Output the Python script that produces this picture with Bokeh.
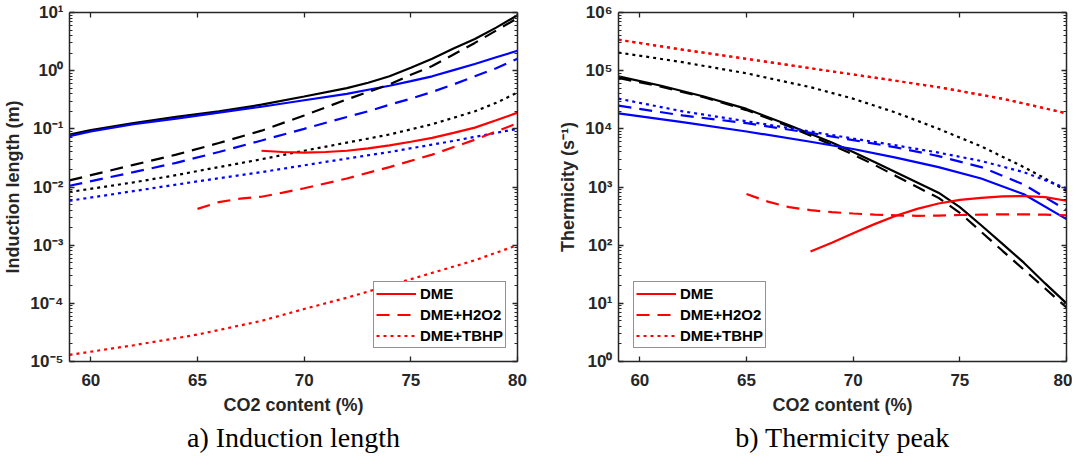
from bokeh.plotting import figure
from bokeh.models import (LogAxis, LinearAxis, FixedTicker, Legend, LegendItem,
                          Title, Range1d, CustomJSTickFormatter)
from bokeh.layouts import row
from bokeh.embed import file_html
from bokeh.resources import INLINE

# ---------------- data: a) Induction length (m) ----------------
len_x_solid = [59, 60, 62, 64, 66, 68, 70, 72, 73, 74, 75, 76, 77, 78, 79, 80]
len_black_solid = [0.08, 0.095, 0.125, 0.16, 0.2, 0.26, 0.36, 0.5, 0.62, 0.8, 1.12, 1.6, 2.4,
                   3.5, 5.5, 9.0]
len_blue_solid = [0.075, 0.09, 0.12, 0.15, 0.19, 0.24, 0.31, 0.4, 0.47, 0.55, 0.66, 0.8, 1.02,
                  1.3, 1.7, 2.2]

len_x_dashed = [59, 62, 64, 66, 68, 70, 72, 73, 74, 75, 76, 77, 78, 79, 80]
len_black_dashed = [0.013, 0.024, 0.036, 0.057, 0.093, 0.17, 0.32, 0.43, 0.58, 0.85, 1.2, 1.9,
                    3.0, 4.9, 8.0]
len_blue_dashed = [0.0105, 0.018, 0.026, 0.04, 0.063, 0.1, 0.16, 0.2, 0.26, 0.33, 0.43, 0.58,
                   0.8, 1.1, 1.6]
len_black_dotted = [0.0082, 0.012, 0.016, 0.022, 0.03, 0.042, 0.058, 0.068, 0.08, 0.098, 0.12,
                    0.155, 0.2, 0.28, 0.42]

len_x_blue_dotted = [59, 62, 65, 68, 71, 74, 77, 80]
len_blue_dotted = [0.0058, 0.0085, 0.0125, 0.018, 0.027, 0.04, 0.062, 0.1]

len_x_red_solid = [68, 69, 70, 71, 72, 73, 74, 75, 76, 77, 78, 79, 80]
len_red_solid = [0.042, 0.04, 0.039, 0.04, 0.042, 0.046, 0.052, 0.06, 0.07, 0.085, 0.105, 0.14, 0.19]

len_x_red_dashed = [65, 66, 67, 68, 69, 70, 72, 74, 76, 78, 80]
len_red_dashed = [0.0042, 0.0055, 0.0063, 0.0068, 0.008, 0.0095, 0.014, 0.022, 0.036, 0.065, 0.125]

len_x_red_dotted = [59, 62, 65, 68, 70, 72, 75, 78, 80]
len_red_dotted = [1.3e-5, 1.9e-5, 2.9e-5, 5e-5, 8e-5, 1.25e-4, 2.6e-4, 5.5e-4, 1e-3]

# ---------------- data: b) Thermicity peak (1/s) ----------------
th_x_black = [59, 61, 63, 65, 67, 69, 70, 71, 72, 73, 74, 75, 76, 77, 78, 79, 80]
th_black_solid = [8e4, 5.5e4, 3.6e4, 2.2e4, 1.15e4, 5.8e3, 4e3, 2.7e3, 1.8e3, 1.2e3, 8e2, 4.5e2,
                  2.2e2, 1.05e2, 50, 22, 10]
th_black_dashed = [7.5e4, 5.3e4, 3.5e4, 2.1e4, 1.1e4, 5.3e3, 3.6e3, 2.4e3, 1.55e3, 1e3, 6.5e2,
                   3.6e2, 1.7e2, 80, 38, 18, 8.5]

th_x_black_dotted = [59, 62, 65, 68, 70, 72, 74, 76, 78, 79, 80]
th_black_dotted = [2.05e5, 1.4e5, 9e4, 5.2e4, 3.3e4, 1.9e4, 1e4, 5e3, 2.2e3, 1.4e3, 8.5e2]

th_x_blue = [59, 62, 65, 68, 70, 72, 74, 76, 78, 80]
th_blue_solid = [1.85e4, 1.3e4, 9e3, 6e3, 4.5e3, 3.2e3, 2.2e3, 1.4e3, 7.5e2, 2.8e2]
th_blue_dashed = [2.5e4, 1.7e4, 1.25e4, 8.5e3, 6.4e3, 4.8e3, 3.4e3, 2.2e3, 1.1e3, 4e2]
th_blue_dotted = [3.3e4, 2e4, 1.35e4, 9e3, 6.8e3, 5.2e3, 3.9e3, 2.8e3, 1.8e3, 9.5e2]

th_x_red_solid = [68, 69, 70, 71, 72, 73, 74, 75, 76, 77, 78, 79, 80]
th_red_solid = [78, 110, 160, 230, 320, 420, 520, 600, 650, 690, 700, 670, 580]

th_x_red_dashed = [65, 66, 67, 68, 69, 70, 71, 72, 73, 74, 75, 76, 77, 78, 79, 80]
th_red_dashed = [760, 560, 450, 400, 370, 350, 335, 325, 320, 322, 330, 335, 338, 338, 335, 325]

th_x_red_dotted = [59, 62, 65, 68, 71, 74, 77, 80]
th_red_dotted = [3.4e5, 2.3e5, 1.6e5, 1.1e5, 7.6e4, 5.2e4, 3.3e4, 1.85e4]

x_ticks = [60, 65, 70, 75, 80]
legend_labels = ["DME", "DME+H2O2", "DME+TBHP"]

# ---------------- styling ----------------
AX = "#262626"
FONT = "Liberation Sans"
LW = 2.2
DASH = "13 8"
DOT = "3 4"
RED, BLUE, BLACK = "#ff0000", "#0000ff", "#000000"


def sup_formatter():
    return CustomJSTickFormatter(code="""
const s = {'-':'\\u207b','0':'\\u2070','1':'\\u00b9','2':'\\u00b2','3':'\\u00b3','4':'\\u2074',
           '5':'\\u2075','6':'\\u2076','7':'\\u2077','8':'\\u2078','9':'\\u2079'};
const e = Math.round(Math.log10(tick));
return '10' + String(e).split('').map(c => s[c]).join('');
""")


def blank_formatter():
    return CustomJSTickFormatter(code="return '';")


def decade_ticker(lo, hi):
    major = [10.0 ** e for e in range(lo, hi + 1)]
    minor = [k * 10.0 ** e for e in range(lo, hi) for k in range(2, 10)]
    return FixedTicker(ticks=major, minor_ticks=minor)


def style_axis(ax, labels=True):
    ax.axis_line_color = AX
    ax.axis_line_width = 1.5
    ax.major_tick_line_color = AX
    ax.minor_tick_line_color = AX
    ax.major_tick_line_width = 1.3
    ax.minor_tick_line_width = 1.0
    ax.major_tick_in = 5
    ax.major_tick_out = 0
    ax.minor_tick_in = 3
    ax.minor_tick_out = 0
    if labels:
        ax.major_label_text_font = FONT
        ax.major_label_text_font_style = "bold"
        ax.major_label_text_font_size = "17px"
        ax.major_label_text_color = AX
        ax.axis_label_text_font = FONT
        ax.axis_label_text_font_style = "bold"
        ax.axis_label_text_font_size = "18px"
        ax.axis_label_text_color = AX
    else:
        ax.formatter = blank_formatter()
        ax.major_label_standoff = 0


def make_panel(lo, hi, ylabel, caption, border_left, border_right):
    p = figure(frame_width=448, frame_height=349, x_range=Range1d(59, 80),
               y_range=Range1d(10.0 ** lo, 10.0 ** hi), y_axis_type="log",
               output_backend="svg", toolbar_location=None,
               min_border_left=border_left, min_border_right=border_right,
               min_border_top=12, min_border_bottom=0,
               background_fill_color="white", border_fill_color="white")
    p.outline_line_color = None
    p.xgrid.visible = False
    p.ygrid.visible = False

    xa = p.xaxis[0]
    xa.ticker = FixedTicker(ticks=x_ticks, minor_ticks=[])
    xa.axis_label = "CO2 content (%)"
    style_axis(xa)
    xa.major_label_standoff = 12
    xa.axis_label_standoff = 6

    ya = p.yaxis[0]
    ya.ticker = decade_ticker(lo, hi)
    ya.formatter = sup_formatter()
    ya.axis_label = ylabel
    style_axis(ya)
    ya.major_label_standoff = 6
    ya.axis_label_standoff = 4

    top = LinearAxis(ticker=FixedTicker(ticks=x_ticks, minor_ticks=[]))
    style_axis(top, labels=False)
    p.add_layout(top, "above")
    right = LogAxis(ticker=decade_ticker(lo, hi))
    style_axis(right, labels=False)
    p.add_layout(right, "right")

    cap = Title(text=caption, align="center", text_font="Liberation Serif",
                text_font_size="28px", text_font_style="normal", text_color="black",
                standoff=4)
    p.add_layout(cap, "below")
    return p


def add_legend(p, renderers, loc):
    items = [LegendItem(label=l, renderers=[r]) for l, r in zip(legend_labels, renderers)]
    lg = Legend(items=items, location=loc, glyph_width=40, glyph_height=19,
                label_height=19, spacing=2, padding=2, margin=0, label_standoff=4,
                label_text_font=FONT, label_text_font_style="bold",
                label_text_font_size="15px", label_text_color="black",
                border_line_color=AX, border_line_width=1.5,
                background_fill_color="white", background_fill_alpha=1.0)
    p.add_layout(lg)


# ---------------- panel a ----------------
pa = make_panel(-5, 1, "Induction length (m)", "a) Induction length", 67, 12)
pa.line(len_x_solid, len_black_solid, color=BLACK, line_width=LW)
pa.line(len_x_solid, len_blue_solid, color=BLUE, line_width=LW)
pa.line(len_x_dashed, len_black_dashed, color=BLACK, line_width=LW, line_dash=DASH)
pa.line(len_x_dashed, len_blue_dashed, color=BLUE, line_width=LW, line_dash=DASH)
pa.line(len_x_dashed, len_black_dotted, color=BLACK, line_width=LW, line_dash=DOT)
pa.line(len_x_blue_dotted, len_blue_dotted, color=BLUE, line_width=LW, line_dash=DOT)
ra1 = pa.line(len_x_red_solid, len_red_solid, color=RED, line_width=LW)
ra2 = pa.line(len_x_red_dashed, len_red_dashed, color=RED, line_width=LW, line_dash=DASH)
ra3 = pa.line(len_x_red_dotted, len_red_dotted, color=RED, line_width=LW, line_dash=DOT)
add_legend(pa, [ra1, ra2, ra3], (304, 13))

# ---------------- panel b ----------------
pb = make_panel(0, 6, "Thermicity (s\u207b\u00b9)", "b) Thermicity peak", 89, 6)
pb.line(th_x_red_dotted, th_red_dotted, color=RED, line_width=LW, line_dash=DOT)
pb.line(th_x_black_dotted, th_black_dotted, color=BLACK, line_width=LW, line_dash=DOT)
pb.line(th_x_black, th_black_solid, color=BLACK, line_width=LW)
pb.line(th_x_black, th_black_dashed, color=BLACK, line_width=LW, line_dash=DASH)
pb.line(th_x_blue, th_blue_solid, color=BLUE, line_width=LW)
pb.line(th_x_blue, th_blue_dashed, color=BLUE, line_width=LW, line_dash=DASH)
pb.line(th_x_blue, th_blue_dotted, color=BLUE, line_width=LW, line_dash=DOT)
rb1 = pb.line(th_x_red_solid, th_red_solid, color=RED, line_width=LW)
rb2 = pb.line(th_x_red_dashed, th_red_dashed, color=RED, line_width=LW, line_dash=DASH)
rb3 = pb.line(th_x_red_dotted, th_red_dotted, color=RED, line_width=LW, line_dash=DOT)
add_legend(pb, [rb1, rb2, rb3], (15, 13))

layout = row(pa, pb)
open("out.html", "w").write(file_html(layout, INLINE))
